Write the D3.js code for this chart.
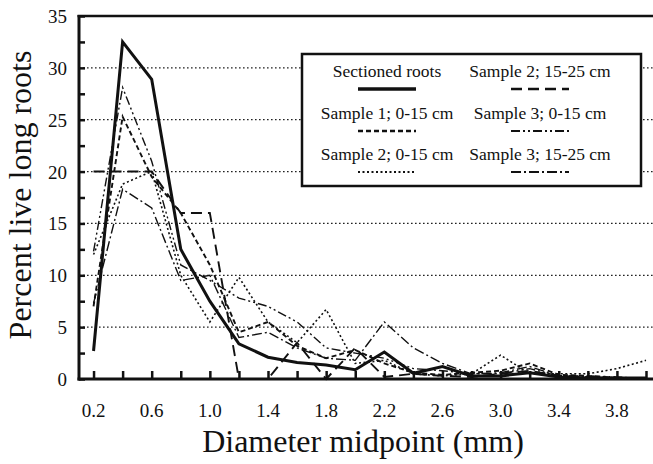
<!DOCTYPE html>
<html>
<head>
<meta charset="utf-8">
<script src="https://cdn.jsdelivr.net/npm/d3@7"></script>
<style>
  body { margin: 0; background: #fff; }
  text { font-family: "Liberation Serif", "Times New Roman", serif; fill: #111; }
</style>
</head>
<body>
<svg id="chart" width="653" height="464"></svg>
<script>
// diameter midpoints (mm)
var diameters = [0.2, 0.4, 0.6, 0.8, 1.0, 1.2, 1.4, 1.6, 1.8, 2.0,
                 2.2, 2.4, 2.6, 2.8, 3.0, 3.2, 3.4, 3.6, 3.8, 4.0];
var xTickLabels = [0.2, 0.6, 1.0, 1.4, 1.8, 2.2, 2.6, 3.0, 3.4, 3.8];
var yTickLabels = [0, 5, 10, 15, 20, 25, 30, 35];

var sectionedRoots = [2.7, 32.5, 28.9, 12.5, 7.5, 3.4, 2.1, 1.6, 1.35, 0.9, 2.6, 0.55, 1.2, 0.3, 0.3, 0.6, 0.2, 0.1, 0.1, 0.1];
var sample1Top     = [7.0, 25.3, 19.5, 16.0, 11.0, 4.5, 5.5, 3.2, 2.0, 2.8, 1.5, 0.6, 0.4, 0.6, 0.8, 1.5, 0.4, 0.3, 0.1, 0.0];
var sample2Top     = [12.0, 18.8, 20.0, 10.0, 5.5, 9.8, 5.5, 3.5, 6.7, 1.5, 1.8, 0.5, 0.3, 0.5, 2.3, 0.5, 0.5, 0.5, 1.0, 1.8];
var sample2Deep    = [20.0, 20.0, 20.0, 16.0, 16.0, 0.0, 0.0, 3.5, 0.0, 3.0, 0.2, 0.5, 0.3, 0.2, 0.5, 0.8, 0.3, 0.2, 0.1, 0.0];
var sample3Top     = [12.3, 28.1, 21.0, 11.0, 9.5, 7.8, 7.0, 5.5, 3.0, 2.5, 2.0, 1.0, 0.8, 0.5, 0.5, 1.0, 0.3, 0.3, 0.2, 0.0];
var sample3Deep    = [7.3, 18.3, 16.5, 9.5, 10.0, 4.0, 4.5, 3.0, 2.0, 1.8, 5.5, 3.0, 1.5, 0.5, 0.6, 1.2, 0.3, 0.2, 0.1, 0.0];

var series = [
  {name: "Sectioned roots",    values: sectionedRoots, dash: null,               width: 3},
  {name: "Sample 2; 15-25 cm", values: sample2Deep,    dash: "11,6",             width: 1.9},
  {name: "Sample 1; 0-15 cm",  values: sample1Top,     dash: "5,3",              width: 1.9},
  {name: "Sample 3; 0-15 cm",  values: sample3Top,     dash: "9,3,2,3,2,3",      width: 1.4},
  {name: "Sample 2; 0-15 cm",  values: sample2Top,     dash: "2,2.5",            width: 1.6},
  {name: "Sample 3; 15-25 cm", values: sample3Deep,    dash: "10,3,2,3",         width: 1.4}
];

var svg = d3.select("#chart");
var w = 653, h = 464;

var x = d3.scaleLinear().domain([0.1, 4.0]).range([79, 646]);
var y = d3.scaleLinear().domain([0, 35]).range([379, 16]);

// dotted gridlines
svg.append("g").selectAll("line")
    .data([5, 10, 15, 20, 25, 30])
    .enter().append("line")
    .attr("x1", x(0.1)).attr("x2", w)
    .attr("y1", function(d) { return y(d); })
    .attr("y2", function(d) { return y(d); })
    .attr("stroke", "#222")
    .attr("stroke-width", 1.3)
    .attr("stroke-dasharray", "1.6,2.4");

// y axis: inward ticks every 2.5
var yAxis = d3.axisRight(y)
    .tickValues(d3.range(0, 35.1, 2.5))
    .tickSize(6)
    .tickFormat("");
svg.append("g")
    .attr("transform", "translate(" + x(0.1) + ",0)")
    .call(yAxis)
    .call(function(g) {
        g.select(".domain").remove();
        g.selectAll("line").attr("stroke", "#111").attr("stroke-width", 2.5);
    });

svg.append("g").selectAll("text")
    .data(yTickLabels)
    .enter().append("text")
    .attr("x", 67)
    .attr("y", function(d) { return y(d) + 7; })
    .attr("text-anchor", "end")
    .style("font-size", "19px")
    .text(function(d) { return d; });

// x axis: inward ticks every 0.2
var xAxis = d3.axisTop(x)
    .tickValues(diameters)
    .tickSize(8)
    .tickFormat("");
svg.append("g")
    .attr("transform", "translate(0," + y(0) + ")")
    .call(xAxis)
    .call(function(g) {
        g.select(".domain").remove();
        g.selectAll("line").attr("stroke", "#111").attr("stroke-width", 2.5);
    });

svg.append("g").selectAll("text")
    .data(xTickLabels)
    .enter().append("text")
    .attr("x", function(d) { return x(d); })
    .attr("y", 417)
    .attr("text-anchor", "middle")
    .style("font-size", "19px")
    .text(function(d) { return d.toFixed(1); });

// frame: left, bottom and top
svg.append("line").attr("x1", x(0.1)).attr("x2", x(0.1)).attr("y1", y(35) - 1).attr("y2", y(0) + 1.5)
    .attr("stroke", "#111").attr("stroke-width", 3);
svg.append("line").attr("x1", x(0.1) - 1.5).attr("x2", w).attr("y1", y(0)).attr("y2", y(0))
    .attr("stroke", "#111").attr("stroke-width", 3);
svg.append("line").attr("x1", x(0.1) - 1.5).attr("x2", w).attr("y1", y(35)).attr("y2", y(35))
    .attr("stroke", "#111").attr("stroke-width", 2.5);

// data lines
var line = d3.line()
    .x(function(d, i) { return x(diameters[i]); })
    .y(function(d) { return y(d); });

svg.append("g").selectAll("path")
    .data(series)
    .enter().append("path")
    .attr("d", function(d) { return line(d.values); })
    .attr("fill", "none")
    .attr("stroke", "#111")
    .attr("stroke-width", function(d) { return d.width; })
    .attr("stroke-dasharray", function(d) { return d.dash; })
    .attr("stroke-linejoin", "miter");

// legend
var legend = svg.append("g");
legend.append("rect")
    .attr("x", 302).attr("y", 54)
    .attr("width", 339).attr("height", 132)
    .attr("fill", "#fff")
    .attr("stroke", "#111")
    .attr("stroke-width", 2.5);

var colX = [387, 540];
var rowY = [77, 119, 160];
var items = legend.selectAll("g.item")
    .data(series)
    .enter().append("g")
    .attr("class", "item")
    .attr("transform", function(d, i) {
        return "translate(" + colX[i % 2] + "," + rowY[Math.floor(i / 2)] + ")"; });

items.append("text")
    .attr("text-anchor", "middle")
    .style("font-size", "17.5px")
    .text(function(d) { return d.name; });

items.append("line")
    .attr("x1", -29).attr("x2", 29)
    .attr("y1", 12).attr("y2", 12)
    .attr("stroke", "#111")
    .attr("stroke-width", function(d) { return d.width + 0.4; })
    .attr("stroke-dasharray", function(d) { return d.dash; });

// axis titles
svg.append("text")
    .attr("x", 363).attr("y", 452)
    .attr("text-anchor", "middle")
    .style("font-size", "32px")
    .text("Diameter midpoint (mm)");

svg.append("text")
    .attr("transform", "translate(31,195) rotate(-90)")
    .attr("text-anchor", "middle")
    .style("font-size", "32px")
    .text("Percent live long roots");
</script>
</body>
</html>
